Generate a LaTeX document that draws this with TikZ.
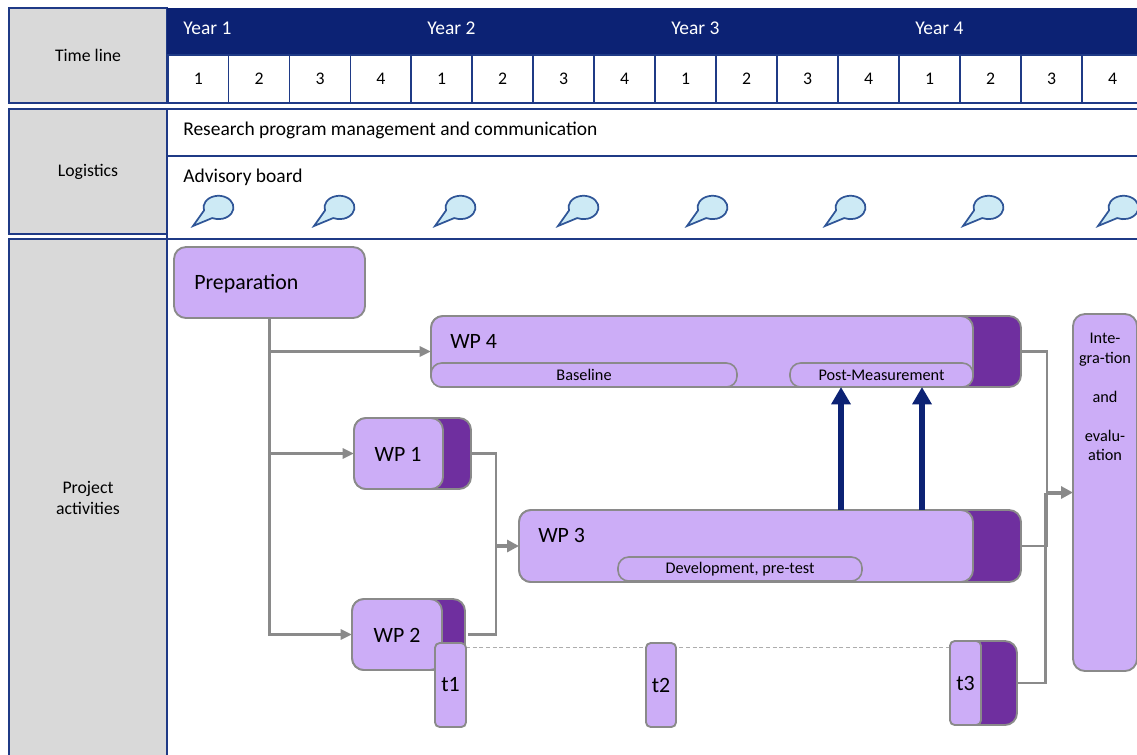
\documentclass[tikz,border=0pt]{standalone}
\usepackage{fontspec}
\setmainfont{Carlito}
\usetikzlibrary{arrows.meta}
\definecolor{navy}{HTML}{0C2274}
\definecolor{rule}{HTML}{1F3A86}
\definecolor{lilac}{HTML}{CCADF7}
\definecolor{plum}{HTML}{6F2F9F}
\definecolor{edge}{HTML}{8A8A8A}
\definecolor{panel}{HTML}{D9D9D9}
\definecolor{bubblefill}{HTML}{CDEAF5}
\definecolor{bubbleedge}{HTML}{2F5597}
\tikzset{
  x=0.75pt,y=0.75pt,
  boxbase/.style={inner sep=0pt,outer sep=0pt,anchor=center},
  panelbox/.style={boxbase,fill=panel,draw=rule,line width=1.5pt,align=center,font=\fontsize{13.3}{15.7}\selectfont},
  rowbox/.style={boxbase,fill=white,draw=rule,line width=1.1pt},
  cellbox/.style={boxbase,fill=white,draw=rule,line width=0.9pt,font=\fontsize{13.3}{15}\selectfont},
  headbox/.style={boxbase,fill=navy,draw=navy},
  lightbox/.style={boxbase,fill=lilac,draw=edge,line width=1.4pt,rounded corners=9pt},
  darkbox/.style={boxbase,fill=plum,draw=edge,line width=1.4pt,rounded corners=9pt},
  pillbox/.style={boxbase,fill=lilac,draw=edge,line width=1.2pt,rounded corners=8pt,font=\fontsize{12.2}{14}\selectfont},
  smallbox/.style={boxbase,fill=lilac,draw=edge,line width=1.4pt,rounded corners=3.5pt,font=\fontsize{16.4}{19}\selectfont},
  lefttext/.style={anchor=west,inner sep=0pt,font=\fontsize{14.6}{17}\selectfont},
  bigtext/.style={anchor=west,inner sep=0pt,font=\fontsize{16.4}{19}\selectfont},
  flow/.style={draw=edge,line width=2.2pt,-{Triangle[length=8.5pt,width=7.5pt]}},
  heavyflow/.style={draw=edge,line width=3pt,-{Triangle[length=9pt,width=9pt]}},
  plainflow/.style={draw=edge,line width=2.2pt},
  bluearrow/.style={draw=navy,line width=4pt,-{Triangle[length=13pt,width=14pt]}},
  thinlink/.style={draw=edge!70,line width=0.7pt,densely dashed},
  bubble/.style={fill=bubblefill,draw=bubbleedge,line width=1.3pt,line join=miter},
}
\newcommand{\pbox}[7]{% name,x0,y0,x1,y1,style,text
  \node[#6,minimum width={(#4-#2)*0.75pt},minimum height={(#5-#3)*0.75pt}] (#1) at ({(#2+#4)/2},{-(#3+#5)/2}) {#7};}
\newcommand{\talk}[2]{% tip x, name
  \coordinate (#2) at (#1,-226);
  \draw[bubble] (#2) -- ++(11,15.5) arc[start angle=195,end angle=-115,x radius=15,y radius=11.7] -- cycle;}
\begin{document}
\begin{tikzpicture}
\useasboundingbox (0,0) rectangle (1137,-754);
\clip (0,0) rectangle (1137,-754);
% left panels
\pbox{tlpanel}{9}{8}{167}{103}{panelbox}{Time line}
\pbox{logpanel}{9}{109}{167}{234}{panelbox}{\raisebox{-0.7pt}{Logistics}}
\pbox{prpanel}{9}{239}{167}{780}{panelbox}{}
\node[panelbox,draw=none,fill=none] (prlabel) at (88,-498) {Project\\activities};
% time line
\pbox{head}{167}{8}{1145}{55}{headbox}{}
\foreach \i/\xa in {1/183,2/427,3/671,4/915}
  \node[lefttext,text=white] (year\i) at (\xa,-28.5) {Year \i};
\foreach \i/\xa/\xb/\t in {1/168/228.5/1,2/228.5/289.5/2,3/289.5/350.5/3,4/350.5/411/4,5/411/472/1,6/472/533/2,7/533/594/3,8/594/655/4,9/655/716/1,10/716/777/2,11/777/838/3,12/838/899/4,13/899/960/1,14/960/1021/2,15/1021/1082/3,16/1082/1143/4}
  \node[cellbox,minimum width={(\xb-\xa)*0.75pt},minimum height=36pt] (cell\i) at ({(\xa+\xb)/2},-79) {\t};
% logistics rows
\pbox{mgmt}{167}{109}{1145}{156}{rowbox}{}
\pbox{board}{167}{156}{1145}{238.5}{rowbox}{}
\node[lefttext] (mgmttext) at (183,-130) {Research program management and communication};
\node[lefttext] (boardtext) at (183,-177) {Advisory board};
\talk{193}{b1}\talk{314}{b2}\talk{435}{b3}\talk{558}{b4}\talk{687}{b5}\talk{825}{b6}\talk{963}{b7}\talk{1098}{b8}
% activities frame
\pbox{area}{167}{239}{1145}{780}{rowbox}{}
% connector junctions
\coordinate (wp2out) at (468,-634.5);
\coordinate (wp1bus) at (496,-453.5);
\coordinate (wp3in) at (496,-546);
\coordinate (rbus) at (1047,-351.5);
\coordinate (tbus) at (1045.5,-683);
% boxes
\pbox{prep}{174}{247}{365}{318}{lightbox}{}
\node[bigtext] (preptext) at (194,-283.5) {Preparation};
\pbox{wp4d}{431}{316}{1021}{387}{darkbox}{}
\pbox{wp4}{431}{316}{973}{387}{lightbox}{}
\node[bigtext] (wp4text) at (450,-341) {WP 4};
\pbox{base}{431}{363}{737}{387}{pillbox}{Baseline}
\pbox{post}{790}{363}{973}{387}{pillbox}{Post-Measurement}
\pbox{wp1d}{354}{418}{471}{489}{darkbox}{}
\pbox{wp1}{354}{418}{443}{489}{lightbox}{}
\node[bigtext,anchor=center] (wp1text) at (398,-454.5) {WP 1};
\pbox{wp3d}{519}{510}{1021}{582}{darkbox}{}
\pbox{wp3}{519}{510}{973}{582}{lightbox}{}
\node[bigtext] (wp3text) at (538,-535.5) {WP 3};
\pbox{dev}{618}{557}{862}{581}{pillbox}{Development, pre-test}
\pbox{wp2d}{352}{599}{465}{670}{darkbox}{}
\pbox{wp2}{352}{599}{442}{670}{lightbox}{}
\node[bigtext,anchor=center] (wp2text) at (397,-635.5) {WP 2};
\pbox{t3d}{950}{641}{1017}{725}{darkbox}{}
\pbox{integ}{1073}{314}{1137}{671}{lightbox}{}
\node[align=center,inner sep=0pt,font=\fontsize{12.2}{14.6}\selectfont] (integtext) at (1105,-397) {Inte-\\gra-tion\\[14.6pt]and\\[14.6pt]evalu-\\ation};
% dotted line between milestones
\coordinate (linea) at (466,-647);
\coordinate (lineb) at (950,-647);
\draw[thinlink] (linea) -- (lineb);
\pbox{t1}{435}{643}{466}{727}{smallbox}{\raisebox{-2pt}{t1}}
\pbox{t2}{646}{643}{676}{727}{smallbox}{\raisebox{-2pt}{t2}}
\pbox{t3}{950}{641}{981}{725}{smallbox}{\raisebox{-0.7pt}{t3}}
% connectors
\coordinate (prepmid) at (269.5,-351.5);
\coordinate (arrowa) at (841,-510);
\coordinate (arrowb) at (922,-510);
\draw[flow] (prep.south) |- (wp2.west);
\draw[flow] (prepmid) -- (wp4.west |- prepmid);
\draw[flow] (prep.south |- wp1.west) -- (wp1.west);
\draw[plainflow] (wp1d.east) -- (wp1bus) -- (wp1bus |- wp2out) -- (wp2out);
\draw[heavyflow] (wp3in) -- (wp3.west);
\draw[plainflow] (wp4d.east) -- (rbus) -- (rbus |- wp3d.east) -- (wp3d.east);
\draw[plainflow] (t3d.east |- tbus) -- (tbus) -- (tbus |- integ.west);
\draw[heavyflow] (tbus |- integ.west) -- (integ.west);
\draw[bluearrow] (arrowa) -- (arrowa |- post.south);
\draw[bluearrow] (arrowb) -- (arrowb |- post.south);
\end{tikzpicture}
\end{document}
